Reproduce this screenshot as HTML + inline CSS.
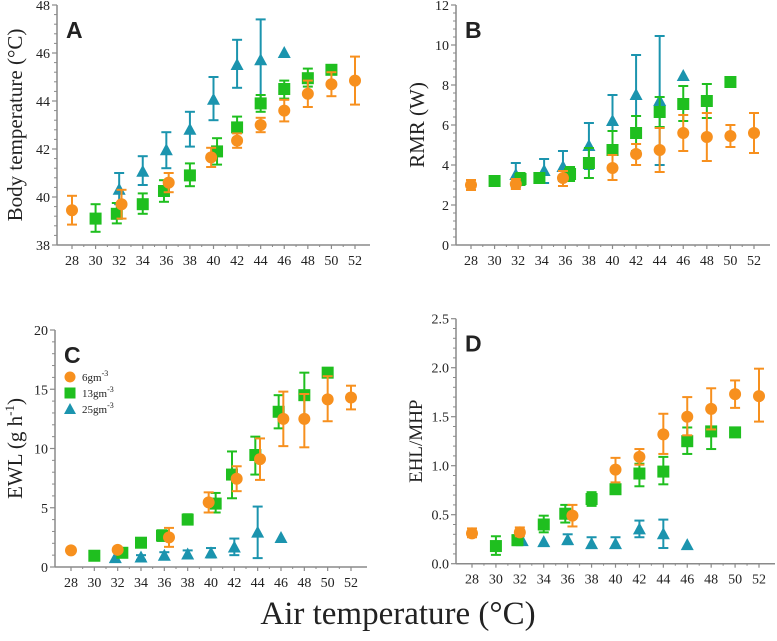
<!DOCTYPE html>
<html><head><meta charset="utf-8"><style>
body{margin:0;background:#fff}
svg{display:block}
text{font-family:"Liberation Serif",serif;fill:#222}
</style></head><body>
<svg id="c" width="777" height="641" xmlns="http://www.w3.org/2000/svg"></svg>
<script>
const xTicks=[28,30,32,34,36,38,40,42,44,46,48,50,52];
// Panel A: body temperature
const aOrangeX=[28,32.2,36.2,39.8,42,44,46,48,50,52];
const aOrangeY=[39.45,39.7,40.6,41.65,42.35,43.0,43.6,44.3,44.7,44.85];
const aOrangeLo=[38.85,39.1,40.2,41.25,42.05,42.7,43.15,43.75,44.2,43.85];
const aOrangeHi=[40.05,40.3,41.0,42.05,42.65,43.3,44.05,44.85,45.2,45.85];
const aGreenX=[30,31.8,34,35.8,38,40.3,42,44,46,48,50];
const aGreenY=[39.1,39.3,39.7,40.25,40.9,41.9,42.9,43.9,44.5,44.95,45.3];
const aGreenLo=[38.55,38.9,39.3,39.8,40.45,41.35,42.45,43.55,44.1,44.6,45.3];
const aGreenHi=[39.7,39.75,40.15,40.7,41.4,42.45,43.35,44.25,44.85,45.35,45.3];
const aBlueX=[32,34,36,38,40,42,44,46];
const aBlueY=[40.3,41.05,41.95,42.8,44.05,45.5,45.7,46.0];
const aBlueLo=[39.7,40.5,41.2,42.1,43.2,44.55,44.0,46.0];
const aBlueHi=[41.0,41.7,42.7,43.55,45.0,46.55,47.4,46.0];
// Panel B: RMR
const bOrangeX=[28,31.8,35.8,40,42,44,46,48,50,52];
const bOrangeY=[3.0,3.05,3.35,3.85,4.55,4.75,5.6,5.4,5.45,5.6];
const bOrangeLo=[2.75,2.8,2.95,3.25,4.0,3.65,4.7,4.2,4.9,4.6];
const bOrangeHi=[3.25,3.3,3.7,4.5,5.05,5.85,6.5,6.6,6.0,6.6];
const bGreenX=[30,32.2,33.8,36.4,38,40,42,44,46,48,50];
const bGreenY=[3.2,3.3,3.35,3.55,4.1,4.75,5.6,6.65,7.05,7.2,8.15];
const bGreenLo=[3.2,3.0,3.1,3.2,3.35,3.8,4.7,5.9,6.2,6.35,8.15];
const bGreenHi=[3.2,3.6,3.6,3.9,4.85,5.7,6.45,7.4,7.95,8.05,8.15];
const bBlueX=[31.8,34.2,35.8,38,40,42,44,46];
const bBlueY=[3.5,3.7,3.9,4.95,6.2,7.5,7.2,8.45];
const bBlueLo=[2.9,3.1,3.2,3.8,4.9,5.5,4.0,8.45];
const bBlueHi=[4.1,4.3,4.7,6.1,7.5,9.5,10.45,8.45];
// Panel C: EWL
const cOrangeX=[28,32,36.4,39.8,42.2,44.2,46.2,48,50,52];
const cOrangeY=[1.4,1.45,2.5,5.45,7.45,9.1,12.5,12.5,14.15,14.3];
const cOrangeLo=[1.4,1.45,1.7,4.6,6.4,7.35,10.2,10.1,12.3,13.3];
const cOrangeHi=[1.4,1.45,3.3,6.3,8.5,10.85,14.8,14.6,16.1,15.3];
const cGreenX=[30,32.4,34,35.8,38,40.4,41.8,43.8,45.8,48,50];
const cGreenY=[0.95,1.2,2.05,2.65,4.0,5.35,7.8,9.45,13.1,14.5,16.4];
const cGreenLo=[0.6,1.2,1.7,2.2,3.6,4.6,5.8,7.8,11.7,12.6,16.4];
const cGreenHi=[1.3,1.2,2.4,3.1,4.45,6.25,9.75,11.0,14.5,16.4,16.4];
const cBlueX=[31.8,34,36,38,40,42,44,46];
const cBlueY=[0.75,0.8,0.95,1.05,1.15,1.65,2.9,2.45];
const cBlueLo=[0.75,0.6,0.7,0.75,0.8,1.0,0.75,2.45];
const cBlueHi=[0.75,1.0,1.25,1.4,1.6,2.4,5.1,2.45];
// Panel D: EHL/MHP
const dOrangeX=[28,32,36.4,40,42,44,46,48,50,52];
const dOrangeY=[0.31,0.32,0.49,0.96,1.09,1.32,1.50,1.58,1.73,1.71];
const dOrangeLo=[0.27,0.28,0.38,0.83,1.01,1.12,1.31,1.37,1.59,1.45];
const dOrangeHi=[0.36,0.37,0.60,1.08,1.17,1.53,1.70,1.79,1.87,1.99];
const dGreenX=[30,31.8,34,35.8,38,40,42,44,46,48,50];
const dGreenY=[0.18,0.24,0.40,0.51,0.66,0.76,0.92,0.94,1.25,1.35,1.34];
const dGreenLo=[0.09,0.19,0.32,0.42,0.59,0.76,0.79,0.81,1.12,1.17,1.34];
const dGreenHi=[0.28,0.29,0.49,0.60,0.73,0.76,1.02,1.09,1.39,1.40,1.34];
const dBlueX=[32.2,34,36,38,40,42,44,46];
const dBlueY=[0.23,0.22,0.24,0.20,0.20,0.35,0.30,0.19];
const dBlueLo=[0.23,0.22,0.20,0.16,0.16,0.27,0.16,0.19];
const dBlueHi=[0.23,0.22,0.30,0.27,0.27,0.44,0.45,0.19];

const aYTicks=[38,40,42,44,46,48];
const bYTicks=[0,2,4,6,8,10,12];
const cYTicks=[0,5,10,15,20];
const dYTicks=[0.0,0.5,1.0,1.5,2.0,2.5];

const NS="http://www.w3.org/2000/svg";
const svg=document.getElementById('c');
const OR="#f7901e",GR="#1fbf1f",BL="#1b94ae",AX="#8a8a8a";
function mk(tag,attrs,parent){const e=document.createElementNS(NS,tag);for(const k in attrs)e.setAttribute(k,attrs[k]);(parent||svg).appendChild(e);return e;}

function panel(p){
  const g=mk('g',{});
  
  
  const ymin=p.yt[0],ymax=p.yt[p.yt.length-1];
  const sx=v=>p.x28+(v-28)*(p.x52-p.x28)/24;
  const sy=v=>p.y0+(v-ymin)*(p.yTop-p.y0)/(ymax-ymin);
  const ya=mk('line',{x1:p.ax,x2:p.ax,y1:p.yTop,y2:p.y0,stroke:AX,'stroke-width':1.5},g);
  
  
  const xa=mk('line',{x1:p.ax,x2:p.xEnd,y1:p.y0,y2:p.y0,stroke:AX,'stroke-width':1.5},g);
  
  
  const step=p.yt[1]-p.yt[0];
  for(let i=0;i<p.yt.length;i++){
    const y=sy(p.yt[i]);
    mk('line',{x1:p.ax-5,x2:p.ax,y1:y,y2:y,stroke:AX,'stroke-width':1.2},g);
    const t=mk('text',{x:p.ax-7,y:y+5,'text-anchor':'end','font-size':14},g);
    t.textContent=p.fmt?p.yt[i].toFixed(1):p.yt[i];
    
    
    if(i<p.yt.length-1){for(let k=1;k<5;k++){const ym=sy(p.yt[i]+step*k/5);mk('line',{x1:p.ax-3,x2:p.ax,y1:ym,y2:ym,stroke:AX,'stroke-width':1},g);}}
  }
  for(const v of xTicks){
    const x=sx(v);
    mk('line',{x1:x,x2:x,y1:p.y0,y2:p.y0+4,stroke:AX,'stroke-width':1.2},g);
    const t=mk('text',{x:x,y:p.y0+20,'text-anchor':'middle','font-size':14},g);
    t.textContent=v;
    
    
  }
  for(let v=29;v<52;v+=2){const x=sx(v);mk('line',{x1:x,x2:x,y1:p.y0,y2:p.y0+2,stroke:AX,'stroke-width':1},g);}
  const L=mk('text',{x:p.ax+9,y:p.yTop+33,'font-size':23,'font-weight':'bold',style:'font-family:"Liberation Sans",sans-serif'},g);
  L.textContent=p.id;
  
  
  const yt=mk('text',{x:0,y:0,'text-anchor':'middle','font-size':p.tsize||21,transform:`translate(${p.tx},${(p.yTop+p.y0)/2}) rotate(-90)`},g);
  yt.innerHTML=p.title;
  
  
  const series=[[p.s[2],BL,'triangle'],[p.s[1],GR,'square'],[p.s[0],OR,'circle']];
  for(const [s,col,shape] of series){
    const sg=mk('g',{},g);
    
    
    for(let i=0;i<s[0].length;i++){
      const x=sx(s[0][i]),y=sy(s[1][i]),lo=sy(s[2][i]),hi=sy(s[3][i]);
      if(Math.abs(lo-hi)>1){
        mk('line',{x1:x,x2:x,y1:lo,y2:hi,stroke:col,'stroke-width':2},sg);
        mk('line',{x1:x-5,x2:x+5,y1:lo,y2:lo,stroke:col,'stroke-width':2},sg);
        mk('line',{x1:x-5,x2:x+5,y1:hi,y2:hi,stroke:col,'stroke-width':2},sg);
      }
      let m;
      if(shape==='circle')m=mk('circle',{cx:x,cy:y,r:6,fill:col},sg);
      else if(shape==='square')m=mk('rect',{x:x-6,y:y-6,width:12,height:12,fill:col},sg);
      else m=mk('polygon',{points:`${x},${y-7} ${x-6.5},${y+5} ${x+6.5},${y+5}`,fill:col},sg);
      
      
    }
  }
}
panel({id:'A',ax:57,xEnd:370,yTop:5,y0:245,x28:72,x52:355,yt:aYTicks,title:'Body temperature (°C)',tx:22,
  s:[[aOrangeX,aOrangeY,aOrangeLo,aOrangeHi],[aGreenX,aGreenY,aGreenLo,aGreenHi],[aBlueX,aBlueY,aBlueLo,aBlueHi]]});
panel({id:'B',ax:456,xEnd:770,yTop:5,y0:245,x28:471,x52:754,yt:bYTicks,title:'RMR (W)',tx:424,
  s:[[bOrangeX,bOrangeY,bOrangeLo,bOrangeHi],[bGreenX,bGreenY,bGreenLo,bGreenHi],[bBlueX,bBlueY,bBlueLo,bBlueHi]]});
panel({id:'C',ax:55,xEnd:367,yTop:330,y0:567,x28:71,x52:351,yt:cYTicks,title:'EWL (g h<tspan dy="-8" font-size="13">-1</tspan><tspan dy="8">)</tspan>',tx:22,
  s:[[cOrangeX,cOrangeY,cOrangeLo,cOrangeHi],[cGreenX,cGreenY,cGreenLo,cGreenHi],[cBlueX,cBlueY,cBlueLo,cBlueHi]]});
panel({id:'D',ax:456,xEnd:775,yTop:318.7,y0:563.7,x28:472,x52:759,yt:dYTicks,fmt:true,title:'EHL/MHP',tx:422,tsize:19,
  s:[[dOrangeX,dOrangeY,dOrangeLo,dOrangeHi],[dGreenX,dGreenY,dGreenLo,dGreenHi],[dBlueX,dBlueY,dBlueLo,dBlueHi]]});

const lg=mk('g',{});


const legLabels=['6gm','13gm','25gm'];
const legCols=[OR,GR,BL];
for(let i=0;i<3;i++){
  const y=377+i*16,x=70;
  let m;
  if(i===0)m=mk('circle',{cx:x,cy:y,r:5.5,fill:legCols[i]},lg);
  else if(i===1)m=mk('rect',{x:x-5.5,y:y-5.5,width:11,height:11,fill:legCols[i]},lg);
  else m=mk('polygon',{points:`${x},${y-6} ${x-6},${y+5} ${x+6},${y+5}`,fill:legCols[i]},lg);
  
  
  const t=mk('text',{x:82,y:y+4,'font-size':11},lg);
  t.innerHTML=legLabels[i]+'<tspan dy="-5" font-size="8">-3</tspan>';
  
  
}
const xt=mk('text',{x:398,y:624,'text-anchor':'middle','font-size':33});
xt.textContent='Air temperature (°C)';


</script>
</body></html>
